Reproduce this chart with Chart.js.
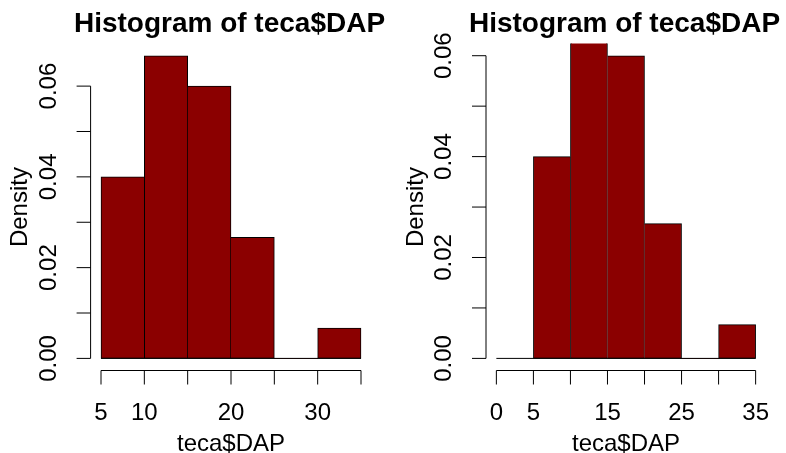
<!DOCTYPE html>
<html>
<head>
<meta charset="utf-8">
<title>Histogram of teca$DAP</title>
<script src="https://cdn.jsdelivr.net/npm/chart.js@4"></script>
<style>
  html, body { margin: 0; padding: 0; background: #fff; }
  .row { display: flex; width: 786px; height: 453px; }
  canvas { display: block; }
</style>
</head>
<body>
<div class="row">
  <canvas id="histLeft" width="393" height="453"></canvas>
  <canvas id="histRight" width="393" height="453"></canvas>
</div>
<script>
// teca$DAP, density by 5 cm class (default breaks)
const leftBreaks = [5, 10, 15, 20, 25, 30, 35];
const leftDensity = [0.04, 0.0667, 0.06, 0.0267, 0, 0.0067];
const leftXTicks = [5, 10, 15, 20, 25, 30, 35];
const leftXLabels = ["5", "10", "", "20", "", "30", ""];

// same data, breaks from 0 and ylim fixed at 0.06
const rightBreaks = [0, 5, 10, 15, 20, 25, 30, 35];
const rightDensity = [0, 0.04, 0.0667, 0.06, 0.0267, 0, 0.0067];
const rightXTicks = [0, 5, 10, 15, 20, 25, 30, 35];
const rightXLabels = ["0", "5", "", "15", "", "25", "", "35"];
const rightYlim = [0, 0.06];

const yTicks = [0, 0.01, 0.02, 0.03, 0.04, 0.05, 0.06];
const yLabels = ["0.00", "", "0.02", "", "0.04", "", "0.06"];

const FONT = '"Liberation Sans", Arial, Helvetica, sans-serif';
const TICK = 14;

// R-style frame: main title, detached axis lines spanning first..last tick,
// outward ticks, labels parallel to the axis
const rFrame = {
  id: "rFrame",
  afterDraw(chart, args, opts) {
    const { ctx, chartArea: area } = chart;
    const x = chart.scales.x;
    const y = chart.scales.y;
    const cx = (area.left + area.right) / 2;
    ctx.save();
    ctx.strokeStyle = "#000";
    ctx.fillStyle = "#000";
    ctx.lineWidth = 1;

    ctx.font = "bold 28px " + FONT;
    ctx.textAlign = "center";
    ctx.textBaseline = "alphabetic";
    ctx.fillText(opts.title, cx - 1.5, area.top - 12);

    ctx.font = "24px " + FONT;
    ctx.textBaseline = "middle";

    const xs = opts.xTicks.map((v) => x.getPixelForValue(v));
    const yb = area.bottom;
    ctx.beginPath();
    ctx.moveTo(xs[0], yb);
    ctx.lineTo(xs[xs.length - 1], yb);
    xs.forEach((px) => {
      ctx.moveTo(px, yb);
      ctx.lineTo(px, yb + TICK);
    });
    ctx.stroke();
    opts.xLabels.forEach((t, i) => {
      if (t) ctx.fillText(t, xs[i], yb + 43);
    });

    const ys = opts.yTicks.map((v) => y.getPixelForValue(v));
    const xl = area.left;
    ctx.beginPath();
    ctx.moveTo(xl, ys[0]);
    ctx.lineTo(xl, ys[ys.length - 1]);
    ys.forEach((py) => {
      ctx.moveTo(xl, py);
      ctx.lineTo(xl - TICK, py);
    });
    ctx.stroke();
    opts.yLabels.forEach((t, i) => {
      if (!t) return;
      ctx.save();
      ctx.translate(xl - 41.5, ys[i]);
      ctx.rotate(-Math.PI / 2);
      ctx.fillText(t, 0, 0);
      ctx.restore();
    });

    // axis titles
    ctx.fillText(opts.xTitle, cx, yb + 74);
    ctx.save();
    ctx.translate(xl - 70, (area.top + area.bottom) / 2);
    ctx.rotate(-Math.PI / 2);
    ctx.fillText(opts.yTitle, 0, 0);
    ctx.restore();
    ctx.restore();
  },
};

function makeHist(id, breaks, density, ylim, xTicks, xLabels, pad) {
  // plot region extends 4% past the data range on each side
  const xr = breaks[breaks.length - 1] - breaks[0];
  const yr = ylim[1] - ylim[0];

  const bars = density.map((d, i) => ({ x: (breaks[i] + breaks[i + 1]) / 2, y: d }));
  const baseline = [
    { x: breaks[0], y: 0 },
    { x: breaks[breaks.length - 1], y: 0 },
  ];

  // shared edges are drawn once, by the taller neighbour
  const edges = (c) => {
    const i = c.dataIndex;
    const h = density[i];
    const prev = i > 0 ? density[i - 1] : -1;
    const next = i < density.length - 1 ? density[i + 1] : -1;
    return { top: 1, bottom: 1, left: h > prev ? 1 : 0, right: h >= next ? 1 : 0 };
  };

  return new Chart(document.getElementById(id), {
    type: "bar",
    data: {
      datasets: [
        {
          type: "line",
          data: baseline,
          borderColor: "#000",
          borderWidth: 1,
          pointRadius: 0,
        },
        {
          data: bars,
          backgroundColor: "#8b0000",
          borderColor: "#000",
          borderWidth: edges,
          borderSkipped: false,
          barThickness: "flex",
          barPercentage: 1,
          categoryPercentage: 1,
        },
      ],
    },
    options: {
      responsive: false,
      animation: false,
      devicePixelRatio: 1,
      layout: { padding: pad },
      scales: {
        x: {
          type: "linear",
          offset: false,
          min: breaks[0] - 0.04 * xr,
          max: breaks[breaks.length - 1] + 0.04 * xr,
          display: false,
        },
        y: {
          type: "linear",
          min: ylim[0] - 0.04 * yr,
          max: ylim[1] + 0.04 * yr,
          display: false,
        },
      },
      plugins: {
        legend: { display: false },
        tooltip: { enabled: false },
        title: { display: false },
        rFrame: {
          title: "Histogram of teca$DAP",
          xTicks: xTicks,
          xLabels: xLabels,
          yTicks: yTicks,
          yLabels: yLabels,
          xTitle: "teca$DAP",
          yTitle: "Density",
        },
      },
    },
    plugins: [rFrame],
  });
}

makeHist("histLeft", leftBreaks, leftDensity, [0, Math.max(...leftDensity)],
  leftXTicks, leftXLabels, { left: 90.6, right: 21.6, top: 43.6, bottom: 82.5 });
makeHist("histRight", rightBreaks, rightDensity, rightYlim,
  rightXTicks, rightXLabels, { left: 93, right: 20, top: 43.6, bottom: 82.5 });
</script>
</body>
</html>
